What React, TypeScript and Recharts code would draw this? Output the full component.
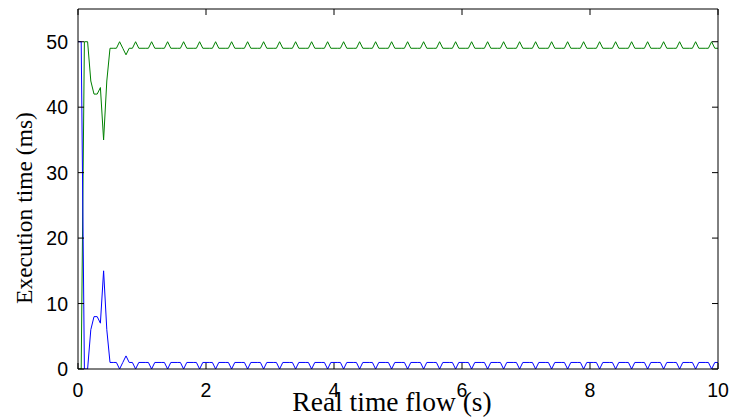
import React from 'react';
import { LineChart, Line, XAxis, YAxis, Label } from 'recharts';

// sample times (s)
const times = [
  0, 0.05, 0.1, 0.15, 0.2, 0.25, 0.3, 0.35, 0.4, 0.45,
  0.5, 0.55, 0.6, 0.65, 0.7, 0.75, 0.8, 0.85, 0.9, 0.95,
  1, 1.05, 1.1, 1.15, 1.2, 1.25, 1.3, 1.35, 1.4, 1.45,
  1.5, 1.55, 1.6, 1.65, 1.7, 1.75, 1.8, 1.85, 1.9, 1.95,
  2, 2.05, 2.1, 2.15, 2.2, 2.25, 2.3, 2.35, 2.4, 2.45,
  2.5, 2.55, 2.6, 2.65, 2.7, 2.75, 2.8, 2.85, 2.9, 2.95,
  3, 3.05, 3.1, 3.15, 3.2, 3.25, 3.3, 3.35, 3.4, 3.45,
  3.5, 3.55, 3.6, 3.65, 3.7, 3.75, 3.8, 3.85, 3.9, 3.95,
  4, 4.05, 4.1, 4.15, 4.2, 4.25, 4.3, 4.35, 4.4, 4.45,
  4.5, 4.55, 4.6, 4.65, 4.7, 4.75, 4.8, 4.85, 4.9, 4.95,
  5, 5.05, 5.1, 5.15, 5.2, 5.25, 5.3, 5.35, 5.4, 5.45,
  5.5, 5.55, 5.6, 5.65, 5.7, 5.75, 5.8, 5.85, 5.9, 5.95,
  6, 6.05, 6.1, 6.15, 6.2, 6.25, 6.3, 6.35, 6.4, 6.45,
  6.5, 6.55, 6.6, 6.65, 6.7, 6.75, 6.8, 6.85, 6.9, 6.95,
  7, 7.05, 7.1, 7.15, 7.2, 7.25, 7.3, 7.35, 7.4, 7.45,
  7.5, 7.55, 7.6, 7.65, 7.7, 7.75, 7.8, 7.85, 7.9, 7.95,
  8, 8.05, 8.1, 8.15, 8.2, 8.25, 8.3, 8.35, 8.4, 8.45,
  8.5, 8.55, 8.6, 8.65, 8.7, 8.75, 8.8, 8.85, 8.9, 8.95,
  9, 9.05, 9.1, 9.15, 9.2, 9.25, 9.3, 9.35, 9.4, 9.45,
  9.5, 9.55, 9.6, 9.65, 9.7, 9.75, 9.8, 9.85, 9.9, 9.95,
  10,
];

// green trace (ms)
const greenValues = [
  0, 0, 50, 50, 44, 42, 42, 43, 35, 44,
  49, 49, 49, 50, 49, 48, 49, 49, 50, 49,
  49, 49, 49, 50, 49, 49, 49, 49, 50, 49,
  49, 49, 49, 50, 49, 49, 49, 49, 50, 49,
  49, 49, 49, 50, 49, 49, 49, 49, 50, 49,
  49, 49, 49, 50, 49, 49, 49, 49, 50, 49,
  49, 49, 49, 50, 49, 49, 49, 49, 50, 49,
  49, 49, 49, 50, 49, 49, 49, 49, 50, 49,
  49, 49, 49, 50, 49, 49, 49, 49, 50, 49,
  49, 49, 49, 50, 49, 49, 49, 49, 50, 49,
  49, 49, 49, 50, 49, 49, 49, 49, 50, 49,
  49, 49, 49, 50, 49, 49, 49, 49, 50, 49,
  49, 49, 49, 50, 49, 49, 49, 49, 50, 49,
  49, 49, 49, 50, 49, 49, 49, 49, 50, 49,
  49, 49, 49, 50, 49, 49, 49, 49, 50, 49,
  49, 49, 49, 50, 49, 49, 49, 49, 50, 49,
  49, 49, 49, 50, 49, 49, 49, 49, 50, 49,
  49, 49, 49, 50, 49, 49, 49, 49, 50, 49,
  49, 49, 49, 50, 49, 49, 49, 49, 50, 49,
  49, 49, 49, 50, 49, 49, 49, 49, 50, 49,
  49,
];

// blue trace (ms)
const blueValues = [
  50, 50, 0, 0, 6, 8, 8, 7, 15, 6,
  1, 1, 1, 0, 1, 2, 1, 1, 0, 1,
  1, 1, 1, 0, 1, 1, 1, 1, 0, 1,
  1, 1, 1, 0, 1, 1, 1, 1, 0, 1,
  1, 1, 1, 0, 1, 1, 1, 1, 0, 1,
  1, 1, 1, 0, 1, 1, 1, 1, 0, 1,
  1, 1, 1, 0, 1, 1, 1, 1, 0, 1,
  1, 1, 1, 0, 1, 1, 1, 1, 0, 1,
  1, 1, 1, 0, 1, 1, 1, 1, 0, 1,
  1, 1, 1, 0, 1, 1, 1, 1, 0, 1,
  1, 1, 1, 0, 1, 1, 1, 1, 0, 1,
  1, 1, 1, 0, 1, 1, 1, 1, 0, 1,
  1, 1, 1, 0, 1, 1, 1, 1, 0, 1,
  1, 1, 1, 0, 1, 1, 1, 1, 0, 1,
  1, 1, 1, 0, 1, 1, 1, 1, 0, 1,
  1, 1, 1, 0, 1, 1, 1, 1, 0, 1,
  1, 1, 1, 0, 1, 1, 1, 1, 0, 1,
  1, 1, 1, 0, 1, 1, 1, 1, 0, 1,
  1, 1, 1, 0, 1, 1, 1, 1, 0, 1,
  1, 1, 1, 0, 1, 1, 1, 1, 0, 1,
  1,
];

const xTicks = [0, 2, 4, 6, 8, 10];
const yTicks = [0, 10, 20, 30, 40, 50];

const TICK_LEN = 6;
const TICK_FONT = '"Liberation Sans", Arial, sans-serif';
const LABEL_FONT = '"Liberation Serif", "Times New Roman", serif';

const chartData = times.map((t, i) => ({ t, green: greenValues[i], blue: blueValues[i] }));

// matlab-style ticks: marks point into the plot, labels sit outside
const BottomTick = (props: any) => {
  const { x, y, payload } = props;
  return (
    <g>
      <line x1={x} y1={y} x2={x} y2={y - TICK_LEN} stroke="#000" />
      <text x={x} y={y + 28} textAnchor="middle" fontFamily={TICK_FONT} fontSize={19.5} fill="#000">
        {payload.value}
      </text>
    </g>
  );
};

const LeftTick = (props: any) => {
  const { x, y, payload } = props;
  return (
    <g>
      <line x1={x} y1={y} x2={x + TICK_LEN} y2={y} stroke="#000" />
      <text x={x - 10} y={y} dy="0.36em" textAnchor="end" fontFamily={TICK_FONT} fontSize={19.5} fill="#000">
        {payload.value}
      </text>
    </g>
  );
};

const TopTick = (props: any) => {
  const { x, y } = props;
  return <line x1={x} y1={y} x2={x} y2={y + TICK_LEN} stroke="#000" />;
};

const RightTick = (props: any) => {
  const { x, y } = props;
  return <line x1={x} y1={y} x2={x - TICK_LEN} y2={y} stroke="#000" />;
};

export default function App() {
  return (
    <div style={{ position: 'absolute', left: 0, top: 0, width: 733, height: 419, background: '#fff' }}>
      <LineChart width={733} height={419} data={chartData} margin={{ top: 0, right: 0, bottom: 0, left: 0 }}>
        <XAxis
          dataKey="t"
          type="number"
          domain={[0, 10]}
          ticks={xTicks}
          allowDataOverflow
          height={50}
          stroke="#000"
          tickSize={0}
          tickMargin={0}
          tickLine={false}
          tick={<BottomTick />}
        >
          <Label
            content={(p: any) => {
              const vb = p.viewBox;
              return (
                <text x={vb.x + vb.width / 2 - 6} y={vb.y + 42} textAnchor="middle" fontFamily={LABEL_FONT} fontSize={27.5} fill="#000">
                  Real time flow (s)
                </text>
              );
            }}
          />
        </XAxis>
        <XAxis
          xAxisId="top"
          orientation="top"
          dataKey="t"
          type="number"
          domain={[0, 10]}
          ticks={xTicks}
          allowDataOverflow
          height={9}
          stroke="#000"
          tickSize={0}
          tickMargin={0}
          tickLine={false}
          tick={<TopTick />}
        />
        <YAxis
          type="number"
          domain={[0, 55]}
          ticks={yTicks}
          allowDataOverflow
          width={78}
          stroke="#000"
          tickSize={0}
          tickMargin={0}
          tickLine={false}
          tick={<LeftTick />}
        >
          <Label
            content={(p: any) => {
              const vb = p.viewBox;
              const cx = 32;
              const cy = vb.y + vb.height / 2 + 19;
              return (
                <text x={cx} y={cy} transform={`rotate(-90 ${cx} ${cy})`} textAnchor="middle" fontFamily={LABEL_FONT} fontSize={23.5} fill="#000">
                  Execution time (ms)
                </text>
              );
            }}
          />
        </YAxis>
        <YAxis
          yAxisId="right"
          orientation="right"
          type="number"
          domain={[0, 55]}
          ticks={yTicks}
          allowDataOverflow
          width={15}
          stroke="#000"
          tickSize={0}
          tickMargin={0}
          tickLine={false}
          tick={<RightTick />}
        />
        <Line dataKey="green" stroke="#008000" strokeWidth={1} dot={false} type="linear" isAnimationActive={false} />
        <Line dataKey="blue" stroke="#0000ff" strokeWidth={1} dot={false} type="linear" isAnimationActive={false} />
      </LineChart>
    </div>
  );
}
